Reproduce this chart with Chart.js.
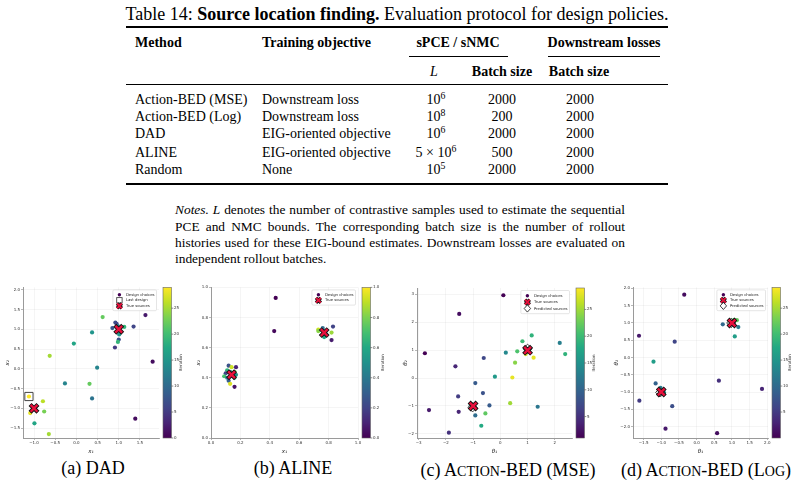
<!DOCTYPE html>
<html>
<head>
<meta charset="utf-8">
<title>Source location finding</title>
<script src="https://cdn.jsdelivr.net/npm/chart.js@4.4.1/dist/chart.umd.min.js"></script>
<style>
  html, body { margin: 0; padding: 0; background: #fff; }
  body { position: relative; width: 800px; height: 491px; overflow: hidden;
         font-family: "Liberation Serif", "Times New Roman", serif; color: #000; }
  .t { position: absolute; white-space: nowrap; line-height: 1; font-size: 14px; }
  .c { transform: translateX(-50%); }
  .b { font-weight: bold; }
  .rule { position: absolute; background: #000; left: 126px; width: 542px; }
  sup { font-size: 70%; vertical-align: 0; position: relative; top: -0.55em; }
  .sc { font-variant-caps: all-small-caps; font-size: 1.15em; }
  .note { position: absolute; left: 175px; width: 450px; font-size: 13.4px; line-height: 1;
          white-space: nowrap; text-align: justify; text-align-last: justify; }
  .cap { position: absolute; font-size: 18px; line-height: 1; white-space: nowrap; transform: translateX(-50%); }
  canvas { position: absolute; }
</style>
</head>
<body>
<div id="page"></div>
<canvas id="dad" width="200" height="188" style="left:0px;top:270px"></canvas>
<canvas id="aline" width="205" height="188" style="left:195px;top:270px"></canvas>
<canvas id="mse" width="215" height="188" style="left:395px;top:270px"></canvas>
<canvas id="log" width="200" height="188" style="left:600px;top:270px"></canvas>

<script>
// ---------- table data ----------
const methods = ['Action-BED (MSE)', 'Action-BED (Log)', 'DAD', 'ALINE', 'Random'];
const objectives = ['Downstream loss', 'Downstream loss', 'EIG-oriented objective', 'EIG-oriented objective', 'None'];
const contrastiveL = ['10<sup>6</sup>', '10<sup>8</sup>', '10<sup>6</sup>', '5 × 10<sup>6</sup>', '10<sup>5</sup>'];
const boundBatch = [2000, 200, 2000, 500, 2000];
const downstreamBatch = [2000, 2000, 2000, 2000, 2000];

// ---------- plot data (x, y, iteration) ----------
const dadX = [1.63, 0.62, 0.92, 0.95, 0.85, 0.98, 1.13, 1.35, 0.37, 1.01, 1.00, 0.98, 0.91, -0.06, -0.63, 1.80, 0.49, -0.27, 0.31, 0.37, -1.12, -0.79, -1.09, -0.76, -0.99, -0.65, 1.39, -1.00, 1.00];
const dadY = [1.36, 1.31, 1.17, 1.14, 1.03, 1.08, 1.06, 1.07, 0.92, 0.87, 0.74, 0.68, 0.54, 0.64, 0.33, 0.18, 0.03, -0.37, -0.38, -0.75, -0.70, -0.82, -1.12, -1.08, -1.38, -1.65, -1.26, -1.00, 1.00];
const dadIter = [2, 22, 7, 6, 8, 12, 19, 6, 15, 15, 7, 19, 5, 17, 25, 1, 13, 13, 22, 11, 29, 26, 28, 23, 17, 25, 1, 27, 10];
const dadLastX = [-1.12];
const dadLastY = [-0.70];
const dadSrcX = [-1, 1];
const dadSrcY = [-1, 1];

const alineX = [0.44, 0.43, 0.76, 0.73, 0.73, 0.78, 0.78, 0.77, 0.82, 0.83, 0.82, 0.12, 0.14, 0.17, 0.11, 0.13, 0.10, 0.16, 0.09, 0.11, 0.15, 0.17, 0.16, 0.12, 0.13, 0.16];
const alineY = [0.93, 0.71, 0.73, 0.72, 0.71, 0.71, 0.69, 0.67, 0.70, 0.74, 0.65, 0.48, 0.47, 0.47, 0.45, 0.44, 0.43, 0.44, 0.41, 0.40, 0.41, 0.42, 0.40, 0.38, 0.36, 0.34];
const alineIter = [0.0, 0.02, 0.35, 0.92, 0.82, 0.25, 0.62, 0.6, 0.85, 0.2, 0.08, 0.25, 0.92, 0.1, 0.65, 0.45, 0.2, 0.8, 0.7, 0.4, 0.3, 0.5, 0.62, 0.3, 0.95, 0.05];
const alineSrcX = [0.14, 0.77];
const alineSrcY = [0.42, 0.70];

const mseX = [0.11, -1.51, -2.77, -1.65, -0.61, 1.15, 0.81, 2.18, 0.20, 0.62, 2.38, 0.93, 1.22, 0.54, -0.20, 0.44, -0.92, -1.55, -0.64, -2.62, -1.53, -0.40, 0.36, 1.37, -1.09, -0.92, -0.55, -0.70, -1.89];
const mseY = [2.97, 2.30, 0.89, 0.42, 0.72, 1.53, 1.32, 1.26, 0.91, 0.96, 0.86, 0.86, 0.73, 0.55, 0.05, 0.02, -0.18, -0.66, -0.54, -1.15, -1.21, -0.98, -0.90, -1.03, -0.96, -1.34, -1.27, -1.71, -1.96];
const mseIter = [1, 2, 1, 4, 7, 19, 20, 13, 14, 21, 19, 27, 28, 24, 16, 28, 9, 6, 8, 3, 4, 9, 25, 12, 16, 11, 22, 18, 5];
const mseSrcX = [-1, 1];
const mseSrcY = [-1, 1];
const msePredX = [-1.02, 1.0];
const msePredY = [-1.05, 1.05];

const logX = [-0.35, -1.63, -0.62, -1.22, 0.74, 1.18, 1.08, 0.98, 1.06, 1.14, 0.63, 1.85, -1.16, -1.02, -0.92, -1.62, -0.69, -0.88, 0.58, 1.0, -1.0];
const logY = [1.82, 0.63, 0.46, -0.12, 0.96, 0.88, 0.61, 1.04, 1.09, 1.08, -0.67, -0.91, -0.75, -0.88, -1.02, -1.25, -1.41, -2.06, -2.19, 1.0, -1.0];
const logIter = [1, 2, 6, 16, 10, 12, 16, 20, 21, 22, 4, 3, 9, 12, 15, 5, 7, 2, 1, 25, 27];
const logSrcX = [-1, 1];
const logSrcY = [-1, 1];
const logPredX = [-1.03, 0.98];
const logPredY = [-1.01, 1.0];

// ---------- axis ranges and tick labels ----------
const dadXRange = [-1.26, 1.95], dadYRange = [-1.75, 2.06], dadIterRange = [0, 29];
const dadXTicks = [-1.0, -0.5, 0.0, 0.5, 1.0, 1.5];
const dadYTicks = [-1.5, -1.0, -0.5, 0.0, 0.5, 1.0, 1.5, 2.0];
const dadCbTicks = [0, 5, 10, 15, 20, 25];

const alineXRange = [0, 1], alineYRange = [0, 1], alineIterRange = [0, 1];
const alineXTicks = [0.0, 0.2, 0.4, 0.6, 0.8, 1.0];
const alineYTicks = [0.0, 0.2, 0.4, 0.6, 0.8, 1.0];
const alineCbTicks = [0.0, 0.2, 0.4, 0.6, 0.8, 1.0];

const mseXRange = [-3.06, 2.63], mseYRange = [-2.15, 3.23], mseIterRange = [1, 29];
const mseXTicks = [-3, -2, -1, 0, 1, 2];
const mseYTicks = [-2, -1, 0, 1, 2, 3];
const mseCbTicks = [5, 10, 15, 20, 25];

const logXRange = [-1.80, 2.02], logYRange = [-2.33, 2.03], logIterRange = [0, 29];
const logXTicks = [-1.5, -1.0, -0.5, 0.0, 0.5, 1.0, 1.5, 2.0];
const logYTicks = [-2.0, -1.5, -1.0, -0.5, 0.0, 0.5, 1.0, 1.5, 2.0];
const logCbTicks = [5, 10, 15, 20, 25];

// ---------- table layout ----------
const page = document.getElementById('page');
function put(html, x, cy, cls, center) {
  const el = document.createElement('div');
  el.className = 't' + (center ? ' c' : '') + (cls ? ' ' + cls : '');
  el.style.left = x + 'px';
  el.style.top = (cy - 7) + 'px';
  el.innerHTML = html;
  page.appendChild(el);
  return el;
}
function rule(y, h, x, w) {
  const el = document.createElement('div');
  el.className = 'rule';
  el.style.top = y + 'px';
  el.style.height = h + 'px';
  if (x !== undefined) { el.style.left = x + 'px'; el.style.width = w + 'px'; }
  page.appendChild(el);
}

const capEl = put('Table 14: <b>Source location finding.</b> Evaluation protocol for design policies.', 397, 13, '', true);
capEl.style.fontSize = '18px';
capEl.style.top = '5px';

rule(26, 1.6);
put('Method', 135, 43, 'b');
put('Training objective', 262, 43, 'b');
put('sPCE / sNMC', 458, 43, 'b', true);
put('Downstream losses', 604, 43, 'b', true);
rule(56, 0.8, 409, 99);
rule(56, 0.8, 548, 112);
put('<i>L</i>', 434, 72, '', true);
put('Batch size', 502, 72, 'b', true);
put('Batch size', 579, 72, 'b', true);
rule(84, 1);

const rowY = [100, 117, 134, 153, 170];
methods.forEach((m, i) => {
  put(m, 135, rowY[i]);
  put(objectives[i], 262, rowY[i]);
  put(contrastiveL[i], 436, rowY[i], '', true);
  put(String(boundBatch[i]), 502, rowY[i], '', true);
  put(String(downstreamBatch[i]), 580, rowY[i], '', true);
});
rule(183, 1.6);

const noteLines = [
  '<i>Notes. L</i> denotes the number of contrastive samples used to estimate the sequential',
  'PCE and NMC bounds. The corresponding batch size is the number of rollout',
  'histories used for these EIG-bound estimates. Downstream losses are evaluated on',
  'independent rollout batches.'
];
const noteY = [210, 227, 243, 259];
noteLines.forEach((txt, i) => {
  const el = document.createElement('div');
  el.className = 'note';
  if (i === noteLines.length - 1) { el.style.textAlign = 'left'; el.style.textAlignLast = 'left'; }
  el.style.top = (noteY[i] - 7) + 'px';
  el.innerHTML = txt;
  page.appendChild(el);
});

const captions = ['(a) DAD', '(b) ALINE', '(c) A<span class="sc">ction</span>-BED (MSE)', '(d) A<span class="sc">ction</span>-BED (L<span class="sc">og</span>)'];
const captionX = [93, 293, 508, 706];
captions.forEach((c, i) => {
  const el = document.createElement('div');
  el.className = 'cap';
  el.style.left = captionX[i] + 'px';
  el.style.top = '459px';
  el.innerHTML = c;
  page.appendChild(el);
});

// ---------- chart helpers ----------
const SANS = '"DejaVu Sans", sans-serif';
const VIRIDIS = ['#440154', '#482475', '#414487', '#355f8d', '#2a788e', '#21918c', '#22a884', '#44bf70', '#7ad151', '#bddf26', '#fde725'];
function hexRgb(h) { const n = parseInt(h.slice(1), 16); return [n >> 16, (n >> 8) & 255, n & 255]; }
function viridis(t) {
  t = Math.max(0, Math.min(1, t));
  const s = t * 10, i = Math.min(9, Math.floor(s)), f = s - i;
  const a = hexRgb(VIRIDIS[i]), b = hexRgb(VIRIDIS[i + 1]);
  return 'rgb(' + a.map((v, k) => Math.round(v + (b[k] - v) * f)).join(',') + ')';
}
function fmt(dec) {
  return v => (v < -1e-9 ? '\u2212' : '') + Math.abs(v).toFixed(dec);
}
function pts(xs, ys) { return xs.map((x, i) => ({ x: x, y: ys[i] })); }

function drawMarker(ctx, m, x, y) {
  ctx.save();
  if (m === 'dot') {
    ctx.fillStyle = '#440154';
    ctx.beginPath(); ctx.arc(x, y, 1.7, 0, Math.PI * 2); ctx.fill();
  } else if (m === 'square') {
    ctx.strokeStyle = '#444'; ctx.lineWidth = 0.9;
    ctx.strokeRect(x - 2.7, y - 2.7, 5.4, 5.4);
  } else if (m === 'x') {
    const d = 2.4;
    [['#111', 3.4], ['#e8103c', 1.9]].forEach(([c, w]) => {
      ctx.strokeStyle = c; ctx.lineWidth = w;
      ctx.beginPath();
      ctx.moveTo(x - d, y - d); ctx.lineTo(x + d, y + d);
      ctx.moveTo(x - d, y + d); ctx.lineTo(x + d, y - d);
      ctx.stroke();
    });
  } else if (m === 'diamond') {
    ctx.fillStyle = '#fff'; ctx.strokeStyle = '#111'; ctx.lineWidth = 0.8;
    ctx.beginPath();
    ctx.moveTo(x, y - 3.6); ctx.lineTo(x + 3.2, y); ctx.lineTo(x, y + 3.6); ctx.lineTo(x - 3.2, y);
    ctx.closePath(); ctx.fill(); ctx.stroke();
  }
  ctx.restore();
}

// legend drawn inside the plot area, top right
const inLegend = {
  id: 'inLegend',
  afterDatasetsDraw(chart, args, o) {
    const ctx = chart.ctx, a = chart.chartArea;
    const items = chart.data.datasets.filter(d => d.label).sort((p, q) => p.legendRank - q.legendRank);
    ctx.save();
    ctx.font = o.fontSize + 'px ' + SANS;
    const tw = Math.max(...items.map(d => ctx.measureText(d.label).width));
    const w = o.textOffset + tw + o.pad, h = o.pad * 2 + items.length * o.rowH;
    const x0 = a.right - o.inset - w, y0 = a.top + o.inset;
    ctx.fillStyle = 'rgba(255,255,255,0.85)';
    ctx.strokeStyle = '#d4d4d4'; ctx.lineWidth = 0.6;
    ctx.beginPath(); ctx.roundRect(x0, y0, w, h, 1.2); ctx.fill(); ctx.stroke();
    items.forEach((d, i) => {
      const cy = y0 + o.pad + (i + 0.5) * o.rowH;
      drawMarker(ctx, d.marker, x0 + o.markerX, cy);
      ctx.fillStyle = '#222'; ctx.textBaseline = 'middle'; ctx.textAlign = 'left';
      ctx.fillText(d.label, x0 + o.textOffset, cy + 0.2);
    });
    ctx.restore();
  }
};

// viridis colour bar next to the cb scale
const colorbar = {
  id: 'colorbar',
  afterDraw(chart, args, o) {
    const s = chart.scales.cb, ctx = chart.ctx;
    const x0 = s.left + o.gap, w = o.width;
    ctx.save();
    const g = ctx.createLinearGradient(0, s.bottom, 0, s.top);
    VIRIDIS.forEach((c, i) => g.addColorStop(i / 10, c));
    ctx.fillStyle = g;
    ctx.fillRect(x0, s.top, w, s.bottom - s.top);
    ctx.strokeStyle = '#666'; ctx.lineWidth = 0.6;
    ctx.strokeRect(x0, s.top, w, s.bottom - s.top);
    ctx.strokeStyle = '#444';
    s.ticks.forEach(t => {
      const y = s.getPixelForValue(t.value);
      ctx.beginPath(); ctx.moveTo(x0 + w, y); ctx.lineTo(x0 + w + 1.8, y); ctx.stroke();
    });
    ctx.translate(s.left + o.titleOffset, (s.top + s.bottom) / 2);
    ctx.rotate(-Math.PI / 2);
    ctx.font = '4px ' + SANS; ctx.fillStyle = '#333';
    ctx.textAlign = 'center'; ctx.textBaseline = 'middle';
    ctx.fillText(o.title, 0, 0);
    ctx.restore();
  }
};

function axis(pos, range, ticks, dec, title, size, titlePad) {
  const vertical = pos === 'left';
  return {
    type: 'linear', position: pos, min: range[0], max: range[1],
    afterBuildTicks: s => { s.ticks = ticks.map(v => ({ value: v })); },
    afterFit: s => { if (vertical) s.width = size; else s.height = size; },
    ticks: { callback: fmt(dec), font: { family: SANS, size: 4 }, color: '#333', padding: 1, maxRotation: 0, autoSkip: false },
    grid: { color: 'rgba(0,0,0,0.07)', lineWidth: 0.6, tickColor: '#888', tickLength: 2 },
    border: { color: '#9a9a9a', width: 1 },
    title: { display: true, text: title, font: { family: SANS, size: 5.5, style: 'italic' }, color: '#222',
             padding: vertical ? { top: titlePad, bottom: 0 } : { top: 0, bottom: titlePad } }
  };
}

function buildPlot(id, d, L) {
  const lo = d.cbRange[0], span = d.cbRange[1] - d.cbRange[0];
  const datasets = [
    { label: 'True sources', legendRank: 2, marker: 'x', order: 0, data: pts(d.srcX, d.srcY),
      pointStyle: 'crossRot', pointRadius: 4.8, pointBorderColor: '#e8103c', pointBackgroundColor: '#e8103c', pointBorderWidth: 2.4 },
    { order: 1, data: pts(d.srcX, d.srcY),
      pointStyle: 'crossRot', pointRadius: 5.6, pointBorderColor: '#111', pointBackgroundColor: '#111', pointBorderWidth: 4.2 },
    { label: 'Design choices', legendRank: 0, marker: 'dot', order: 4, data: pts(d.x, d.y),
      pointStyle: 'circle', pointRadius: 2.1, pointBorderWidth: 0,
      pointBackgroundColor: d.iter.map(v => viridis((v - lo) / span)) }
  ];
  if (d.predX) {
    datasets.push({ label: 'Predicted sources', legendRank: 3, marker: 'diamond', order: 2, data: pts(d.predX, d.predY),
      pointStyle: 'rectRot', pointRadius: 4.6, pointBorderColor: '#111', pointBackgroundColor: '#fff', pointBorderWidth: 0.8 });
  }
  if (d.lastX) {
    datasets.push({ label: 'Last design', legendRank: 1, marker: 'square', order: 3, data: pts(d.lastX, d.lastY),
      pointStyle: 'rect', pointRadius: 5.8, pointBorderColor: '#444', pointBackgroundColor: 'rgba(0,0,0,0)', pointBorderWidth: 1 });
  }
  datasets.forEach(ds => { ds.pointHoverRadius = ds.pointRadius; });

  new Chart(document.getElementById(id), {
    type: 'scatter',
    data: { datasets: datasets },
    options: {
      responsive: false, animation: false, devicePixelRatio: 1,
      layout: { padding: { top: L.padTop, left: 0, right: 0, bottom: 0 } },
      events: [],
      plugins: {
        legend: { display: false }, tooltip: { enabled: false },
        inLegend: { inset: 2.5, pad: 2, rowH: L.rowH, textOffset: 13, markerX: 6.5, fontSize: 3.8 },
        colorbar: { gap: 4, width: 8.5, title: 'Iteration', titleOffset: L.cbTitle }
      },
      scales: {
        x: axis('bottom', d.xRange, d.xTicks, d.xDec, d.xTitle, 20, 3),
        y: axis('left', d.yRange, d.yTicks, d.yDec, d.yTitle, L.yAxisW, L.yTitlePad),
        cb: {
          type: 'linear', position: 'right', min: d.cbRange[0], max: d.cbRange[1],
          afterBuildTicks: s => { s.ticks = d.cbTicks.map(v => ({ value: v })); },
          afterFit: s => { s.width = L.cbW; },
          grid: { display: false, drawTicks: false },
          border: { display: false },
          ticks: { callback: fmt(d.cbDec), font: { family: SANS, size: 4 }, color: '#333', padding: 15, autoSkip: false }
        }
      }
    },
    plugins: [inLegend, colorbar]
  });
}

buildPlot('dad', {
  x: dadX, y: dadY, iter: dadIter, srcX: dadSrcX, srcY: dadSrcY, lastX: dadLastX, lastY: dadLastY,
  xRange: dadXRange, yRange: dadYRange, cbRange: dadIterRange,
  xTicks: dadXTicks, yTicks: dadYTicks, cbTicks: dadCbTicks, xDec: 1, yDec: 1, cbDec: 0,
  xTitle: 'x\u2081', yTitle: 'x\u2082'
}, { padTop: 9, yAxisW: 23, cbW: 41, yTitlePad: 4, cbTitle: 22, rowH: 5.6 });

buildPlot('aline', {
  x: alineX, y: alineY, iter: alineIter, srcX: alineSrcX, srcY: alineSrcY,
  xRange: alineXRange, yRange: alineYRange, cbRange: alineIterRange,
  xTicks: alineXTicks, yTicks: alineYTicks, cbTicks: alineCbTicks, xDec: 1, yDec: 1, cbDec: 1,
  xTitle: 'x\u2081', yTitle: 'x\u2082'
}, { padTop: 17, yAxisW: 16, cbW: 42, yTitlePad: 0, cbTitle: 25, rowH: 5.6 });

buildPlot('mse', {
  x: mseX, y: mseY, iter: mseIter, srcX: mseSrcX, srcY: mseSrcY, predX: msePredX, predY: msePredY,
  xRange: mseXRange, yRange: mseYRange, cbRange: mseIterRange,
  xTicks: mseXTicks, yTicks: mseYTicks, cbTicks: mseCbTicks, xDec: 0, yDec: 0, cbDec: 0,
  xTitle: '\u03b8\u2081', yTitle: '\u03b8\u2082'
}, { padTop: 18, yAxisW: 22, cbW: 38, yTitlePad: 7, cbTitle: 22, rowH: 6.4 });

buildPlot('log', {
  x: logX, y: logY, iter: logIter, srcX: logSrcX, srcY: logSrcY, predX: logPredX, predY: logPredY,
  xRange: logXRange, yRange: logYRange, cbRange: logIterRange,
  xTicks: logXTicks, yTicks: logYTicks, cbTicks: logCbTicks, xDec: 1, yDec: 1, cbDec: 0,
  xTitle: '\u03b8\u2081', yTitle: '\u03b8\u2082'
}, { padTop: 14, yAxisW: 33, cbW: 32, yTitlePad: 13, cbTitle: 22, rowH: 5.6 });
</script>
</body>
</html>
